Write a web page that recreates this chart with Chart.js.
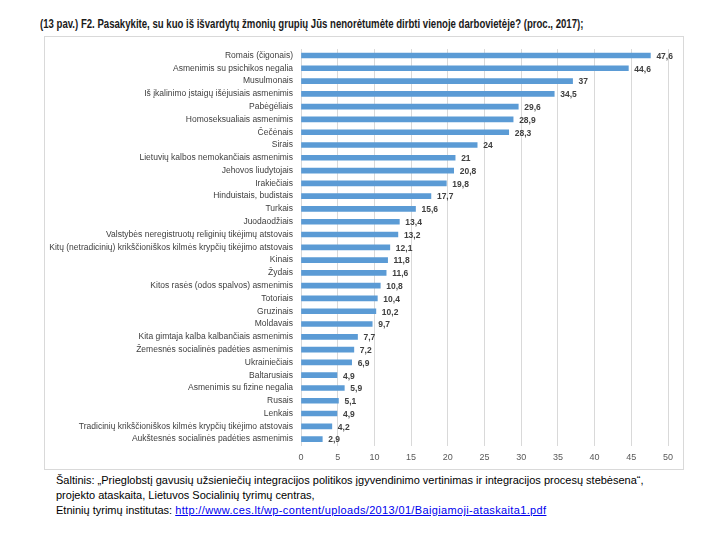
<!DOCTYPE html>
<html>
<head>
<meta charset="utf-8">
<script src="https://cdn.jsdelivr.net/npm/chart.js@4/dist/chart.umd.min.js"></script>
<style>
  html, body { margin: 0; padding: 0; background: #fff; width: 720px; height: 540px; overflow: hidden; }
  #title { position: absolute; left: 40px; top: 17px; font: bold 12px "Liberation Sans", Arial, sans-serif; color: #1a1a1a; white-space: nowrap; transform: scaleX(0.8); transform-origin: left top; }
  #box { position: absolute; left: 44px; top: 36px; width: 638px; height: 432px; border: 1px solid #d9d9d9; }
  #wrap { position: absolute; left: 44px; top: 36px; width: 640px; height: 432px; }
  #foot { position: absolute; left: 56px; top: 473px; font: 11px "Liberation Sans", Arial, sans-serif; color: #000; line-height: 15px; white-space: nowrap; background: #fff; padding-right: 4px; }
  #foot a { color: #0000ee; text-decoration: underline; letter-spacing: 0.35px; }
</style>
</head>
<body>
<div id="title">(13 pav.) F2. Pasakykite, su kuo iš išvardytų žmonių grupių Jūs nenorėtumėte dirbti vienoje darbovietėje? (proc., 2017);</div>
<div id="box"></div>
<div id="wrap"><canvas id="c"></canvas></div>
<div id="foot">Šaltinis: „Prieglobstį gavusių užsieniečių integracijos politikos įgyvendinimo vertinimas ir integracijos procesų stebėsena“,<br>projekto ataskaita, Lietuvos Socialinių tyrimų centras,<br>Etninių tyrimų institutas: <a href="#">http://www.ces.lt/wp-content/uploads/2013/01/Baigiamoji-ataskaita1.pdf</a></div>
<script>
const categories = [
  "Romais (čigonais)",
  "Asmenimis su psichikos negalia",
  "Musulmonais",
  "Iš įkalinimo įstaigų išėjusiais asmenimis",
  "Pabėgėliais",
  "Homoseksualiais asmenimis",
  "Čečėnais",
  "Sirais",
  "Lietuvių kalbos nemokančiais asmenimis",
  "Jehovos liudytojais",
  "Irakiečiais",
  "Hinduistais, budistais",
  "Turkais",
  "Juodaodžiais",
  "Valstybės neregistruotų religinių tikėjimų atstovais",
  "Kitų (netradicinių) krikščioniškos kilmės krypčių tikėjimo atstovais",
  "Kinais",
  "Žydais",
  "Kitos rasės (odos spalvos) asmenimis",
  "Totoriais",
  "Gruzinais",
  "Moldavais",
  "Kita gimtaja kalba kalbančiais asmenimis",
  "Žemesnės socialinės padėties asmenimis",
  "Ukrainiečiais",
  "Baltarusiais",
  "Asmenimis su fizine negalia",
  "Rusais",
  "Lenkais",
  "Tradicinių krikščioniškos kilmės krypčių tikėjimo atstovais",
  "Aukštesnės socialinės padėties asmenimis"
];
const values = [47.6, 44.6, 37, 34.5, 29.6, 28.9, 28.3, 24, 21, 20.8, 19.8, 17.7, 15.6, 13.4, 13.2, 12.1, 11.8, 11.6, 10.8, 10.4, 10.2, 9.7, 7.7, 7.2, 6.9, 4.9, 5.9, 5.1, 4.9, 4.2, 2.9];
const xTicks = [0, 5, 10, 15, 20, 25, 30, 35, 40, 45, 50];

const labelFont = '"Liberation Sans", Arial, sans-serif';

const valueLabels = {
  id: 'valueLabels',
  afterDatasetsDraw(chart) {
    const ctx = chart.ctx;
    const meta = chart.getDatasetMeta(0);
    ctx.save();
    ctx.font = 'bold 8.5px ' + labelFont;
    ctx.fillStyle = '#404040';
    ctx.textAlign = 'left';
    ctx.textBaseline = 'middle';
    meta.data.forEach((bar, i) => {
      const txt = String(values[i]).replace('.', ',');
      ctx.fillText(txt, bar.x + 6, bar.y + 1);
    });
    ctx.restore();
  }
};

new Chart(document.getElementById('c'), {
  type: 'bar',
  data: {
    labels: categories,
    datasets: [{
      data: values,
      backgroundColor: '#5b9bd5',
      borderWidth: 0,
      barThickness: 5
    }]
  },
  options: {
    indexAxis: 'y',
    responsive: true,
    maintainAspectRatio: false,
    animation: false,
    layout: { padding: { top: 9.5, right: 16, left: 0, bottom: 0 } },
    plugins: {
      legend: { display: false },
      tooltip: { enabled: false },
      title: { display: false }
    },
    scales: {
      x: {
        min: 0, max: 50,
        afterBuildTicks(axis) { axis.ticks = xTicks.map(v => ({ value: v })); },
        afterFit(axis) { axis.height = 22.5; },
        grid: { color: '#d9d9d9', lineWidth: 1, drawTicks: false },
        border: { display: false },
        ticks: { color: '#595959', font: { family: labelFont, size: 9 }, padding: 7 }
      },
      y: {
        afterFit(axis) { axis.width = 257; },
        grid: { display: false, drawTicks: false },
        border: { display: true, color: '#d9d9d9' },
        ticks: { color: '#404040', font: { family: labelFont, size: 8.5 }, padding: 8, autoSkip: false }
      }
    }
  },
  plugins: [valueLabels]
});
</script>
</body>
</html>
